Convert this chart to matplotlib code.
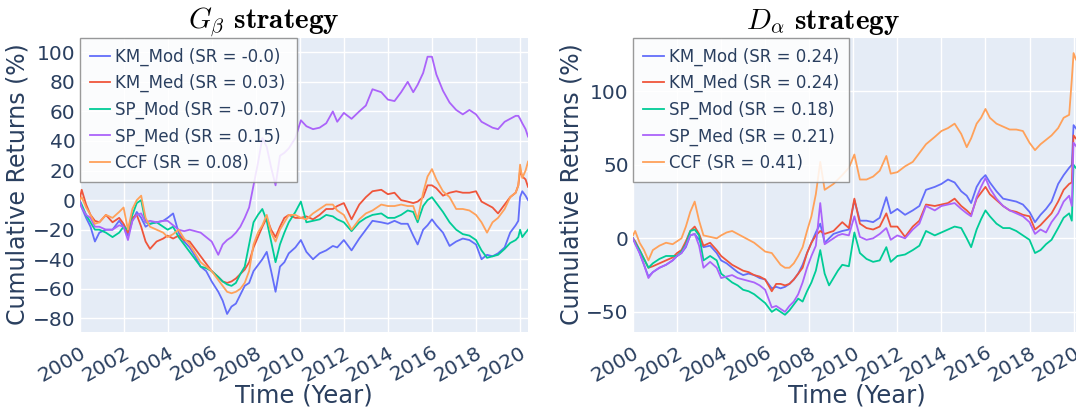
import numpy as np
import matplotlib.pyplot as plt

plt.rcParams['font.family'] = 'DejaVu Sans'
plt.rcParams['mathtext.fontset'] = 'cm'

# decimal years (common time grid for both panels)
years = [2000.0, 2000.1, 2000.3, 2000.5, 2000.7, 2000.9, 2001.2, 2001.5, 2001.8, 2002.0,
         2002.2, 2002.4, 2002.6, 2002.8, 2003.0, 2003.2, 2003.5, 2003.8, 2004.0, 2004.25,
         2004.5, 2004.75, 2005.0, 2005.25, 2005.5, 2005.75, 2006.0, 2006.3, 2006.5, 2006.7,
         2006.9, 2007.1, 2007.3, 2007.5, 2007.7, 2007.9, 2008.1, 2008.3, 2008.5, 2008.7,
         2008.9, 2009.1, 2009.3, 2009.5, 2009.8, 2010.05, 2010.3, 2010.6, 2010.9, 2011.2,
         2011.5, 2011.7, 2012.0, 2012.35, 2012.7, 2013.0, 2013.3, 2013.7, 2014.0, 2014.3,
         2014.6, 2014.9, 2015.15, 2015.35, 2015.6, 2015.8, 2016.0, 2016.2, 2016.5, 2016.8,
         2017.1, 2017.4, 2017.7, 2018.0, 2018.25, 2018.5, 2018.75, 2019.0, 2019.3, 2019.55,
         2019.8, 2019.92, 2020.0, 2020.1, 2020.25, 2020.36]

# G_beta strategy
km_mod_g = [0, -5, -12, -18, -28, -22, -20, -20, -14, -18,
            -24, -14, -8, -12, -18, -16, -15, -14, -12, -9,
            -22, -28, -32, -38, -45, -48, -55, -62, -68, -77,
            -72, -70, -64, -58, -56, -48, -44, -40, -35, -48,
            -62, -45, -42, -36, -32, -27, -35, -40, -36, -34,
            -31, -32, -27, -34, -26, -20, -14, -15, -16, -14,
            -16, -16, -24, -30, -20, -17, -13, -17, -22, -31,
            -28, -26, -27, -30, -40, -37, -38, -36, -32, -22,
            -17, -14, 2, 6, 3, 0]
km_med_g = [0, 7, -3, -10, -14, -15, -10, -15, -12, -16,
            -22, -12, -10, -18, -28, -33, -28, -26, -24, -26,
            -24, -27, -28, -33, -38, -43, -48, -52, -55, -56,
            -55, -53, -50, -47, -42, -32, -25, -18, -12, -20,
            -25, -18, -12, -10, -12, -12, -11, -13, -10, -6,
            -6, -4, -2, -13, -3, 2, 6, 7, 4, 5,
            0, -1, -2, -1, 2, 10, 10, 8, 3, 5,
            6, 5, 5, 6, -1, -3, -5, -9, -3, 2,
            5, 10, 20, 16, 14, 9]
sp_mod_g = [0, -3, -10, -15, -20, -20, -22, -25, -22, -18,
            -20, -10, -2, 0, -15, -16, -15, -18, -20, -18,
            -25, -30, -35, -40, -45, -46, -48, -52, -55, -57,
            -58, -56, -50, -45, -30, -15, -10, -6, -14, -28,
            -42, -30, -22, -15, -8, -1, -15, -14, -13, -10,
            -11, -13, -15, -21, -15, -12, -10, -9, -12, -12,
            -10, -7, -8, -15, -4, 0, 2, -2, -8, -15,
            -20, -23, -24, -27, -34, -39, -38, -37, -33, -29,
            -27, -25, -20, -25, -22, -20]
sp_med_g = [0, -5, -10, -12, -18, -18, -20, -20, -17, -18,
            -27, -14, -10, -9, -15, -14, -15, -14, -14, -17,
            -20, -21, -20, -21, -22, -25, -28, -37, -30, -27,
            -25, -22, -18, -12, -5, 10, 25, 42, 36, 22,
            10, 30, 32, 35, 42, 54, 50, 48, 49, 52,
            60, 53, 59, 55, 60, 64, 75, 73, 68, 67,
            73, 80, 73, 78, 86, 97, 97, 85, 74, 66,
            61, 58, 61, 58, 53, 51, 49, 48, 53, 55,
            57, 57, 55, 52, 48, 43]
ccf_g = [0, 2, -5, -10, -16, -15, -10, -12, -8, -5,
         -20, -6, 0, 3, -12, -18, -20, -22, -25, -23,
         -20, -26, -30, -36, -42, -45, -48, -54, -58, -62,
         -63, -62, -60, -56, -48, -30, -22, -17, -10, -22,
         -28, -20, -15, -10, -10, -12, -13, -9, -6, -3,
         -3, -7, -10, -20, -13, -9, -7, -3, -4, -4,
         -3, -4, -4, -13, 5, 16, 21, 14, 6, 2,
         -6, -6, -7, -10, -15, -22, -15, -12, -6, 2,
         5, 10, 24, 15, 20, 26]

# D_alpha strategy
km_mod_d = [0, -3, -10, -18, -26, -23, -20, -18, -15, -12,
            -10, -6, 2, 3, -1, -6, -5, -10, -15, -17,
            -20, -23, -25, -24, -25, -27, -28, -34, -33, -34,
            -33, -31, -28, -24, -18, -10, -3, 4, 10, -3,
            0, 3, 4, 5, 6, 26, 12, 12, 11, 14,
            28, 17, 20, 16, 19, 22, 33, 35, 37, 40,
            38, 32, 29, 24, 35, 40, 43, 38, 32, 27,
            26, 25, 23, 18, 11, 16, 20, 25, 37, 43,
            48, 50, 77, 75, 72, 70]
km_med_d = [0, -2, -8, -14, -20, -19, -17, -15, -13, -10,
            -8, -2, 5, 8, 3, -5, -3, -8, -12, -15,
            -18, -20, -22, -23, -25, -26, -28, -36, -31, -31,
            -32, -31, -28, -24, -20, -10, -3, 2, 5, 3,
            4, 5, 8, 11, 7, 27, 10, 7, 6, 8,
            17, 8, 8, 1, 8, 12, 23, 22, 23, 24,
            27, 22, 19, 16, 27, 31, 35, 30, 26, 22,
            19, 18, 16, 15, 6, 9, 13, 17, 25, 33,
            37, 38, 70, 68, 66, 65]
sp_mod_d = [0, -3, -8, -14, -20, -17, -14, -12, -12, -12,
            -9, -4, 5, 6, 2, -15, -12, -15, -24, -27,
            -30, -32, -35, -36, -38, -41, -44, -50, -48, -50,
            -52, -49, -45, -41, -43, -36, -30, -22, -8, -24,
            -32, -27, -22, -18, -19, 4, -10, -14, -16, -15,
            -6, -16, -12, -11, -8, -5, 5, 2, 4, 6,
            8, 7, 0, -6, 6, 13, 19, 15, 10, 7,
            7, 5, 2, -1, -10, -8, -4, -1, 7, 14,
            17, 12, 50, 48, 46, 45]
sp_med_d = [0, -4, -10, -18, -27, -23, -20, -18, -15, -12,
            -10, -5, 2, 3, -5, -20, -16, -20, -27, -26,
            -25, -27, -28, -29, -30, -32, -35, -47, -46, -48,
            -50, -46, -43, -38, -30, -20, -12, -5, 24, -4,
            -2, 0, 2, 3, 2, 15, 1, -1, 0, 3,
            7, -1, 2, 0, 6, 10, 22, 19, 22, 23,
            24, 20, 17, 15, 28, 35, 41, 34, 27, 22,
            19, 17, 15, 11, 3, 6, 4, 11, 17, 25,
            29, 22, 65, 63, 60, 58]
ccf_d = [2, 5, -3, -8, -15, -8, -5, -3, -4, -2,
         0, 8, 18, 25, 12, 2, 1, 0, 2, 4,
         5, 3, 1, -1, -3, -6, -9, -10, -14, -18,
         -20, -20, -17, -12, -6, 5, 15, 30, 52, 33,
         35, 37, 40, 43, 48, 57, 40, 40, 42, 46,
         56, 44, 45, 49, 52, 58, 64, 69, 73, 75,
         78, 71, 62, 68, 78, 82, 88, 82, 78, 76,
         74, 74, 73, 65, 60, 64, 67, 70, 75, 82,
         84, 108, 126, 122, 118, 115]

names = ['KM_Mod', 'KM_Med', 'SP_Mod', 'SP_Med', 'CCF']
sr_g = ['-0.0', '0.03', '-0.07', '0.15', '0.08']
sr_d = ['0.24', '0.24', '0.18', '0.21', '0.41']
colors = ['#636EFA', '#EF553B', '#00CC96', '#AB63FA', '#FFA15A']
year_ticks = list(range(2000, 2021, 2))

txt = '#2a3f5f'
W, H = 1076, 412
fig = plt.figure(figsize=(W / 100, H / 100), dpi=100)
ax1 = fig.add_axes([79.5 / W, 80.3 / H, 448.5 / W, 294.2 / H])
ax2 = fig.add_axes([633 / W, 80.3 / H, 448.5 / W, 294.2 / H])

panels = [
    (ax1, [km_mod_g, km_med_g, sp_mod_g, sp_med_g, ccf_g], sr_g, (-89, 110),
     list(range(-80, 101, 20)), r'$G_\beta$ $\mathbf{strategy}$', 264),
    (ax2, [km_mod_d, km_med_d, sp_mod_d, sp_med_d, ccf_d], sr_d, (-63.5, 136.6),
     [-50, 0, 50, 100], r'$D_\alpha$ $\mathbf{strategy}$', 823),
]

for ax, series, srs, ylim, yt, title, tx in panels:
    ax.set_facecolor('#E5ECF6')
    for vals, name, sr, c in zip(series, names, srs, colors):
        ax.plot(years, vals, color=c, lw=1.3, label=f'{name} (SR = {sr})')
    ax.set_xlim(2000, 2020.36)
    ax.set_ylim(*ylim)
    ax.set_xticks(year_ticks)
    ax.set_xticklabels([str(y) for y in year_ticks], rotation=30, ha='right',
                       rotation_mode='anchor')
    ax.set_yticks(yt)
    ax.grid(True, color='white', lw=1)
    ax.set_axisbelow(True)
    for s in ax.spines.values():
        s.set_visible(False)
    ax.tick_params(length=0, labelsize=14.5, labelcolor=txt, pad=3)
    ax.tick_params(axis='x', pad=8)
    ax.set_xlabel('Time (Year)', fontsize=17.5, color=txt)
    ax.xaxis.set_label_coords(0.5, (412 - 384 - 80.3) / 294.2)
    ax.set_ylabel('Cumulative Returns (%)', fontsize=17, color=txt, labelpad=2)
    leg = ax.legend(loc='upper left', borderaxespad=0, fontsize=12, fancybox=False,
                    framealpha=0.85, edgecolor='#888888', handlelength=1.25,
                    handletextpad=0.3, labelspacing=0.5, borderpad=0.6)
    leg.get_frame().set_linewidth(1)
    for t in leg.get_texts():
        t.set_color(txt)
    fig.text(tx / W, 1 - 29 / H, title, ha='center', va='baseline', fontsize=21)

fig.savefig('out.png', dpi=100)
